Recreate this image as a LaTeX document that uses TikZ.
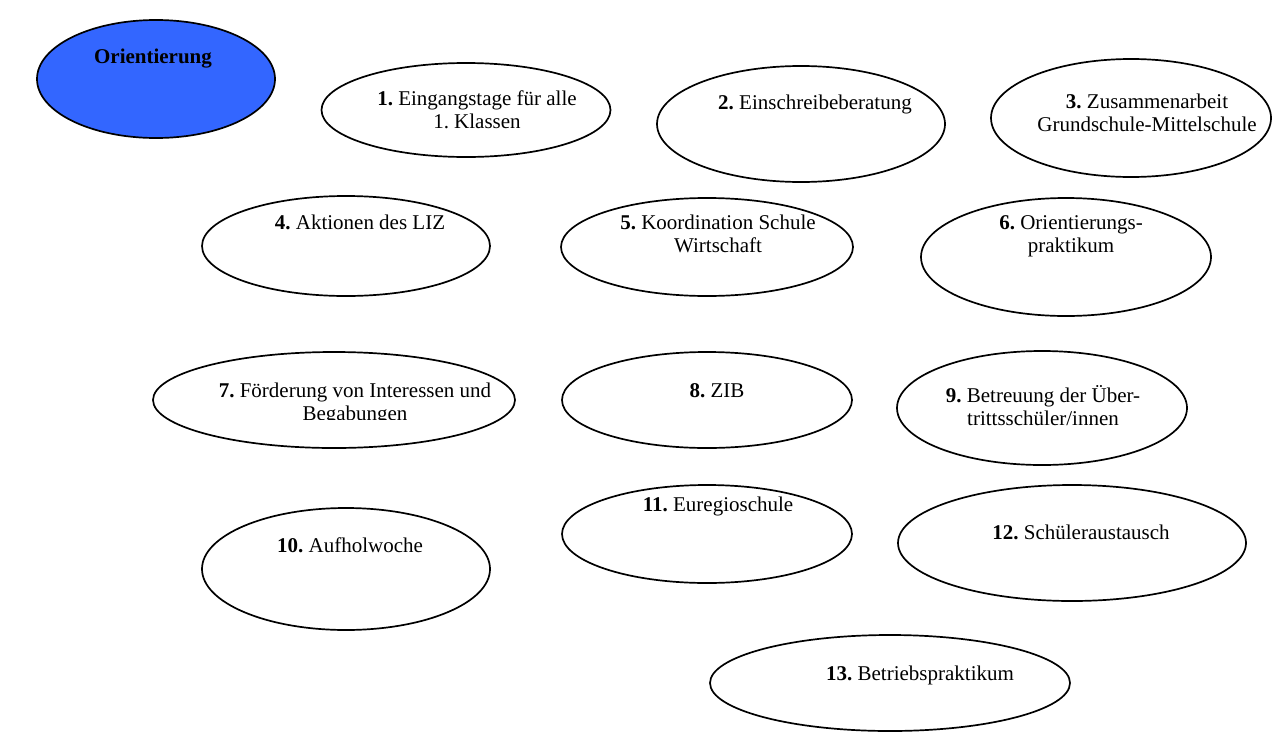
\documentclass[tikz,border=0pt]{standalone}
\usepackage{fontspec}
\setmainfont{Liberation Serif}
\usetikzlibrary{shapes.geometric}
\definecolor{oriblue}{RGB}{51,102,255}
\tikzset{
  bub/.style={ellipse, draw=black, line width=1.7pt, fill=white, inner sep=0pt},
  lbl/.style={anchor=base, inner sep=0pt, font=\fontsize{21}{23.5}\selectfont\frenchspacing}
}
\newcommand{\twol}[2]{\begin{tabular}[t]{@{}c@{}}#1\\#2\end{tabular}}
\begin{document}
\begin{tikzpicture}[x=1pt,y=-1pt]
\useasboundingbox (0,0) rectangle (1284,731);
% ellipses
\node[bub, fill=oriblue, minimum width=238pt, minimum height=118pt] (e0) at (156,79) {};
\node[bub, minimum width=289pt, minimum height=94pt] (e1) at (466,110) {};
\node[bub, minimum width=288pt, minimum height=116pt] (e2) at (801,124) {};
\node[bub, minimum width=280pt, minimum height=118pt] (e3) at (1131,118) {};
\node[bub, minimum width=288pt, minimum height=100pt] (e4) at (346,246) {};
\node[bub, minimum width=292pt, minimum height=98pt] (e5) at (707,247) {};
\node[bub, minimum width=290pt, minimum height=118pt] (e6) at (1066,257) {};
\node[bub, minimum width=362pt, minimum height=96pt] (e7) at (334,400) {};
\node[bub, minimum width=290pt, minimum height=96pt] (e8) at (707,400) {};
\node[bub, minimum width=290pt, minimum height=114pt] (e9) at (1042,408) {};
\node[bub, minimum width=288pt, minimum height=122pt] (e10) at (346,569) {};
\node[bub, minimum width=290pt, minimum height=98pt] (e11) at (707,534) {};
\node[bub, minimum width=348pt, minimum height=116pt] (e12) at (1072,543) {};
\node[bub, minimum width=360pt, minimum height=96pt] (e13) at (890,683) {};
% texts
\node[lbl] (t0) at (153,63) {\textbf{Orientierung}};
\node[lbl] (t1) at (477,105) {\twol{\textbf{1.} Eingangstage für alle}{1. Klassen}};
\node[lbl] (t2) at (815,109) {\textbf{2.} Einschreibeberatung};
\node[lbl] (t3) at (1147,108) {\twol{\textbf{3.} Zusammenarbeit}{Grundschule-Mittelschule}};
\node[lbl] (t4) at (360,229) {\textbf{4.} Aktionen des LIZ};
\node[lbl] (t5) at (718,229) {\twol{\textbf{5.} Koordination Schule}{Wirtschaft}};
\node[lbl] (t6) at (1071,229) {\twol{\textbf{6.} Orientierungs-}{praktikum}};
\begin{scope}
\clip (150,340) rectangle (520,419);
\node[lbl] (t7) at (355,397) {\twol{\textbf{7.} Förderung von Interessen und}{Begabungen}};
\end{scope}
\node[lbl] (t8) at (717,397) {\textbf{8.} ZIB};
\node[lbl] (t9) at (1043,402) {\twol{\textbf{9.} Betreuung der Über-}{trittsschüler/innen}};
\node[lbl] (t10) at (350,552) {\textbf{10.} Aufholwoche};
\node[lbl] (t11) at (718,511) {\textbf{11.} Euregioschule};
\node[lbl] (t12) at (1081,539) {\textbf{12.} Schüleraustausch};
\node[lbl] (t13) at (920,680) {\textbf{13.} Betriebspraktikum};
\end{tikzpicture}
\end{document}
